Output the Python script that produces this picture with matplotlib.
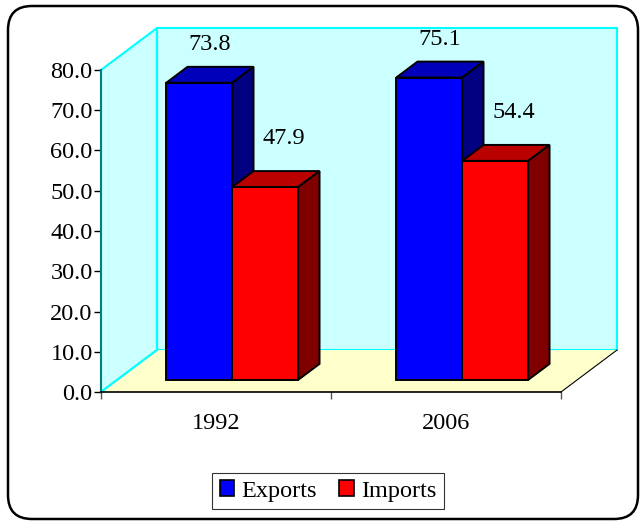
import numpy as np
import matplotlib.pyplot as plt
from matplotlib.patches import Polygon, FancyBboxPatch

plt.rcParams['font.family'] = ['Liberation Serif', 'DejaVu Serif']
plt.rcParams['font.size'] = 17.5

# data
years = ["1992", "2006"]
series = ["Exports", "Imports"]
exports = [73.8, 75.1]
imports = [47.9, 54.4]
yticks = np.arange(0, 81, 10)

front_cols = ["#0000FF", "#FF0000"]
top_cols = ["#0000BB", "#BB0000"]
side_cols = ["#000080", "#800000"]

# 3d look: shift for full depth, in data units
DX = 0.2435
DY = 10.43
D0, D1 = 0.29, 0.67  # bar front / back depth
W = 0.287


def proj(x, y, d):
    return (x + d * DX, y + d * DY)


fig = plt.figure(figsize=(6.4, 5.23), dpi=100)

# outer rounded frame
bg = fig.add_axes([0, 0, 1, 1], zorder=-1)
bg.set_xlim(0, 640)
bg.set_ylim(523, 0)
bg.axis("off")
bg.add_patch(FancyBboxPatch((8, 6), 630, 513, boxstyle="round,pad=0,rounding_size=24",
                            fc="white", ec="black", lw=1.8))

ax = fig.add_axes([101 / 640, 131 / 523, 460 / 640, 322 / 523])
ax.set_xlim(0, 2)
ax.set_ylim(0, 80)
ax.patch.set_visible(False)

ymax = yticks[-1]
n = len(years)

# walls and floor
back = [proj(0, 0, 1), proj(n, 0, 1), proj(n, ymax, 1), proj(0, ymax, 1)]
left = [proj(0, 0, 0), proj(0, 0, 1), proj(0, ymax, 1), proj(0, ymax, 0)]
floor = [proj(0, 0, 0), proj(n, 0, 0), proj(n, 0, 1), proj(0, 0, 1)]
ax.add_patch(Polygon(back, closed=True, fc="#CCFFFF", ec="#00FFFF", lw=1.5, clip_on=False, zorder=1))
ax.add_patch(Polygon(left, closed=True, fc="#CCFFFF", ec="#00FFFF", lw=1.5, clip_on=False, zorder=1))
ax.add_patch(Polygon(floor, closed=True, fc="#FFFFCC", ec="none", clip_on=False, zorder=1))
ax.plot(*zip(proj(0, 0, 0), proj(0, 0, 1)), color="#00FFFF", lw=1.5, clip_on=False, zorder=1.5)
ax.plot(*zip(proj(n, 0, 0), proj(n, 0, 1)), color="black", lw=0.8, clip_on=False, zorder=1.5)

# bars
for i in range(n):
    for j, vals in enumerate([exports, imports]):
        v = vals[i]
        x0 = i + 0.5 - W + j * W
        x1 = x0 + W
        faces = [
            ([proj(x0, 0, D0), proj(x1, 0, D0), proj(x1, v, D0), proj(x0, v, D0)], front_cols[j]),
            ([proj(x0, v, D0), proj(x1, v, D0), proj(x1, v, D1), proj(x0, v, D1)], top_cols[j]),
            ([proj(x1, 0, D0), proj(x1, 0, D1), proj(x1, v, D1), proj(x1, v, D0)], side_cols[j]),
        ]
        for pts, c in faces:
            ax.add_patch(Polygon(pts, closed=True, fc=c, ec="black", lw=1.4,
                                 joinstyle="miter", clip_on=False, zorder=2 + i * 2 + j))
        xc, yc = proj(x0 + W / 2, v, (D0 + D1) / 2)
        off = (0, 22) if j == 0 else (6, 29)
        ax.annotate(f"{v:.1f}", (xc, yc), xytext=off, textcoords="offset points",
                    ha="center", va="center", annotation_clip=False, zorder=10)

# axes
for s in ["top", "right"]:
    ax.spines[s].set_visible(False)
ax.spines["left"].set_color("#008080")
ax.spines["left"].set_linewidth(1.5)
ax.spines["bottom"].set_color("black")
ax.spines["bottom"].set_linewidth(1.2)
ax.spines["left"].set_zorder(1.6)

ax.set_yticks(yticks)
ax.set_yticklabels([f"{t:.1f}" for t in yticks])
ax.tick_params(axis="y", length=5, width=1, color="black", pad=1)
ax.set_xticks(np.arange(n + 1))
ax.set_xticklabels([])
ax.tick_params(axis="x", which="major", length=5, width=1, color="#555555")
ax.set_xticks(np.arange(n) + 0.5, minor=True)
ax.set_xticklabels(years, minor=True)
ax.tick_params(axis="x", which="minor", length=0, pad=15)

handles = [plt.Rectangle((0, 0), 1, 1, fc=c, ec="black", lw=1.2) for c in front_cols]
leg = fig.legend(handles, series, loc="center", bbox_to_anchor=(328 / 640, 1 - 491 / 523),
                 ncol=2, frameon=True, fancybox=False, edgecolor="black",
                 handlelength=0.6, handleheight=0.6, handletextpad=0.3,
                 columnspacing=0.9, borderpad=0.3, borderaxespad=0)
leg.get_frame().set_linewidth(0.8)

fig.savefig("out.png", dpi=100)
